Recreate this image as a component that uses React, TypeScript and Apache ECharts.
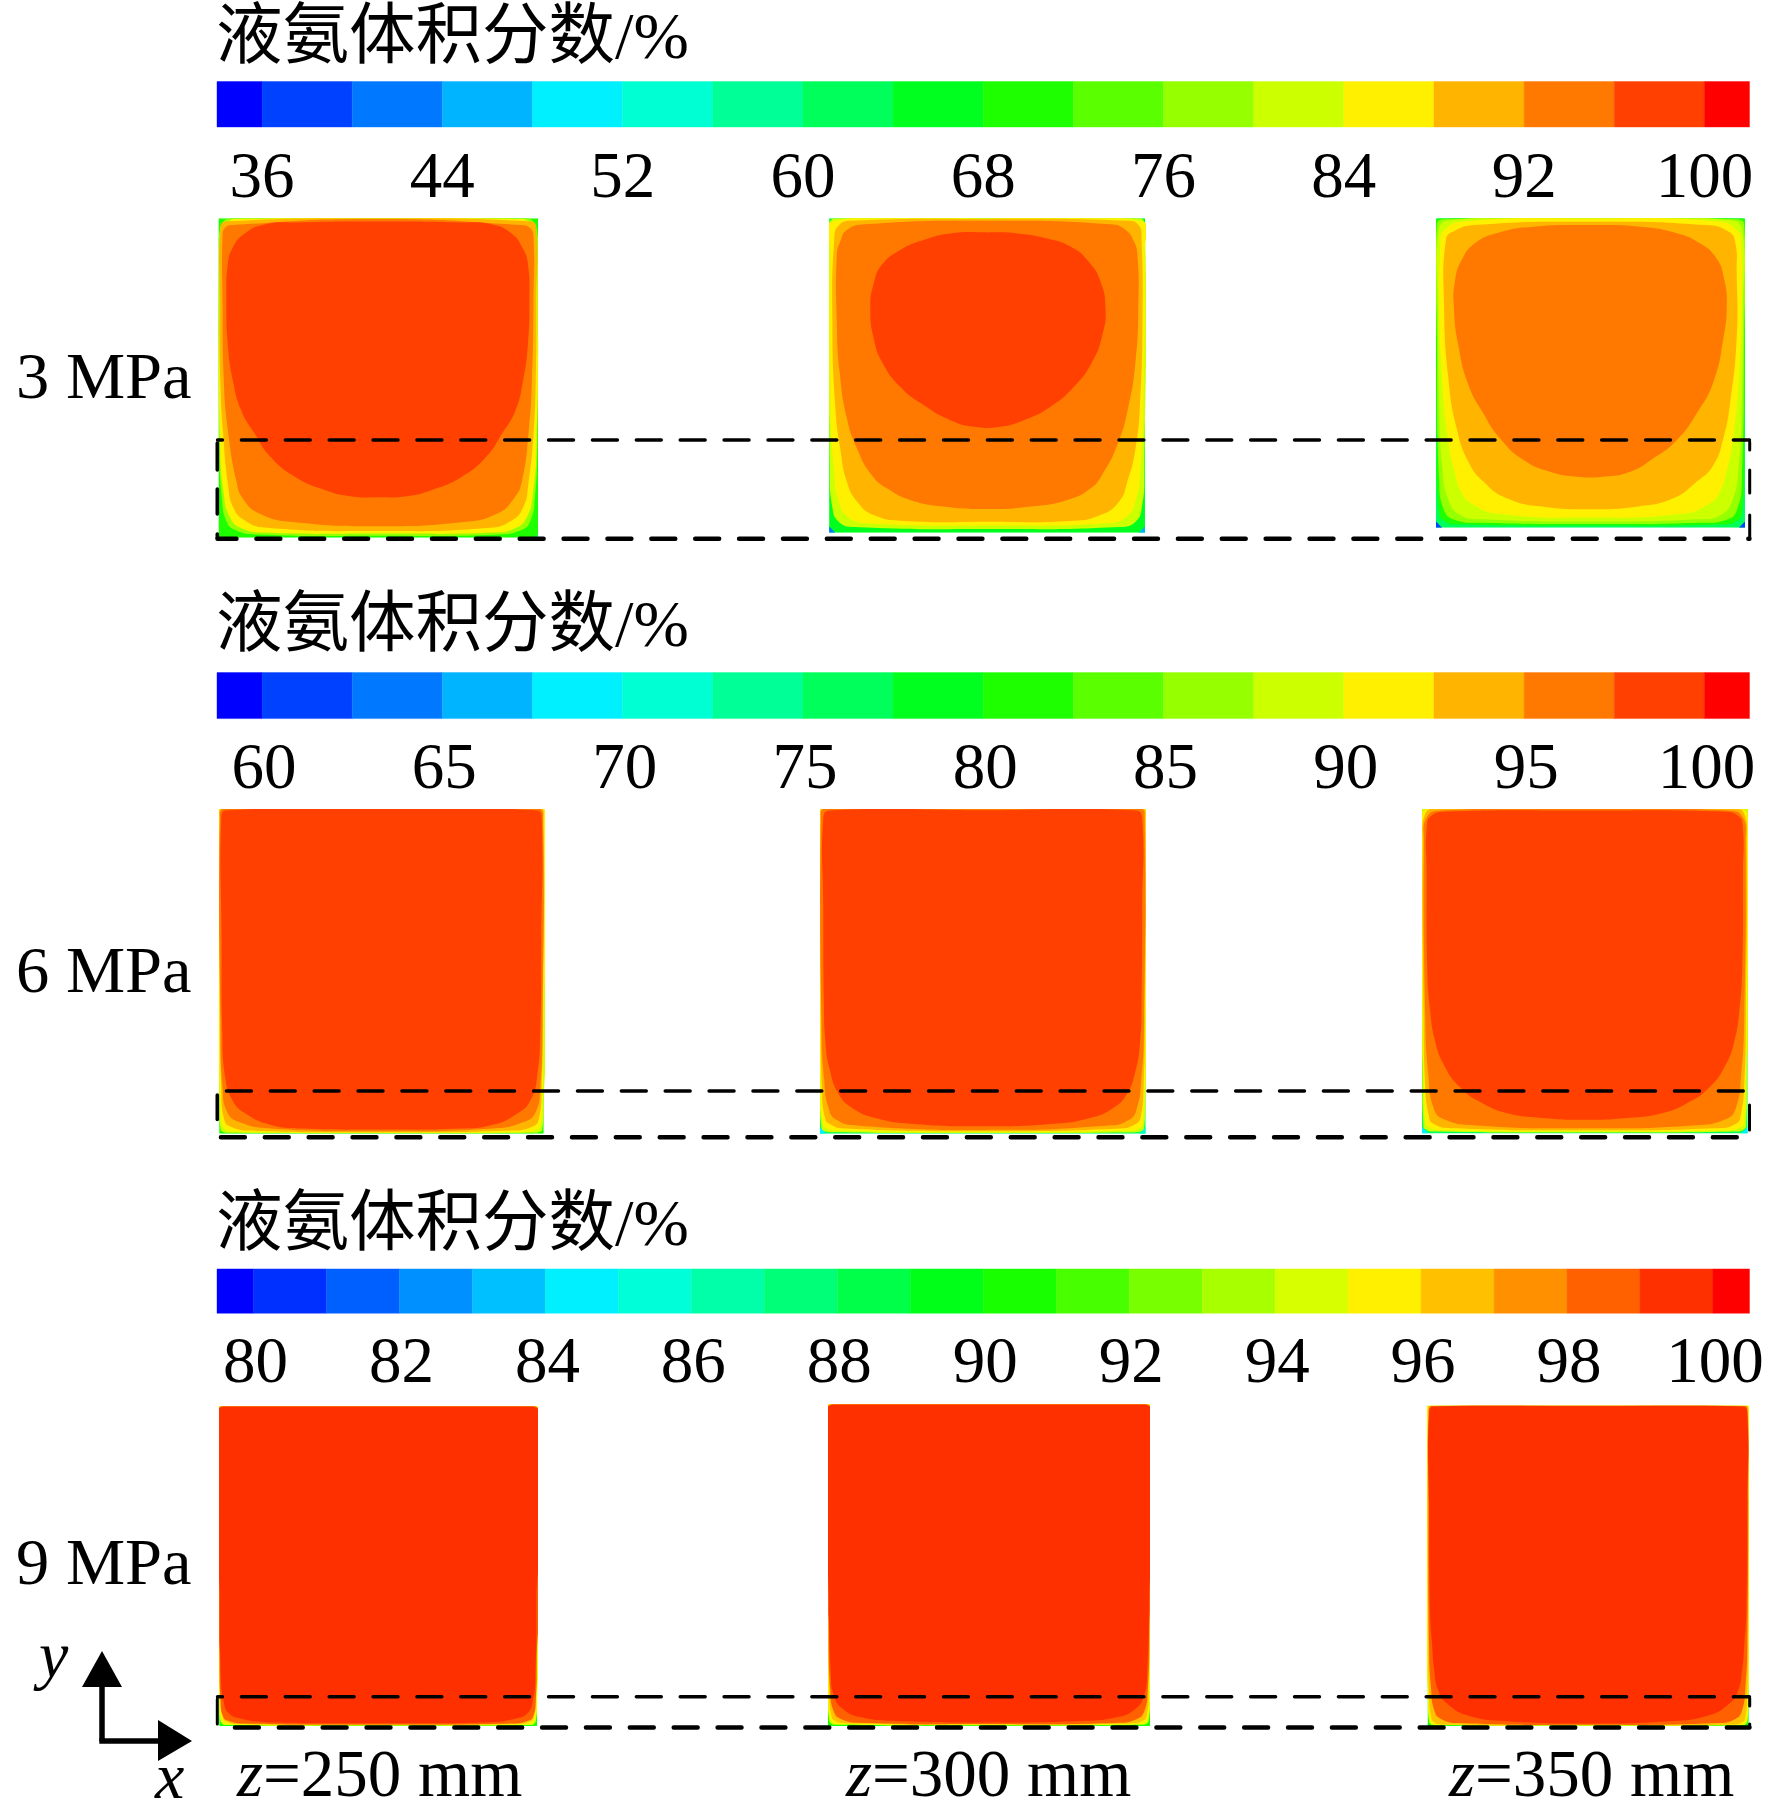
import React, { useEffect, useRef } from "react";
import * as echarts from "echarts";

type Pt = number[];

// ---------- colour-bar data ----------
const titleText = "液氨体积分数/%";
const rowLabels = ["3 MPa", "6 MPa", "9 MPa"];
const positionLabels = ["250", "300", "350"];

const bar1Edges = [34, 36, 40, 44, 48, 52, 56, 60, 64, 68, 72, 76, 80, 84, 88, 92, 96, 100, 102];
const bar1Ticks = [36, 44, 52, 60, 68, 76, 84, 92, 100];
const bar2Edges = [58.75, 60, 62.5, 65, 67.5, 70, 72.5, 75, 77.5, 80, 82.5, 85, 87.5, 90, 92.5, 95, 97.5, 100, 101.25];
const bar2Ticks = [60, 65, 70, 75, 80, 85, 90, 95, 100];
const bar3Edges = [79.5, 80, 81, 82, 83, 84, 85, 86, 87, 88, 89, 90, 91, 92, 93, 94, 95, 96, 97, 98, 99, 100, 100.5];
const bar3Ticks = [80, 82, 84, 86, 88, 90, 92, 94, 96, 98, 100];

const palette18 = ["#0000ff", "#0040ff", "#0078ff", "#00b4ff", "#00f0ff", "#00ffd2", "#00ff96", "#00ff5a", "#00ff1e", "#1eff00", "#5aff00", "#96ff00", "#ccff00", "#fff000", "#ffb400", "#ff7800", "#ff4000", "#ff0000"];
const palette22 = ["#0000ff", "#0030ff", "#0060ff", "#0090ff", "#00c0ff", "#00f0ff", "#00ffd8", "#00ffa8", "#00ff78", "#00ff48", "#00ff18", "#18ff00", "#48ff00", "#78ff00", "#a8ff00", "#d8ff00", "#fff000", "#ffc000", "#ff9000", "#ff6000", "#ff3000", "#ff0000"];

// ---------- contour outlines (x %, y % of each section) ----------
const whole: Pt[] = [[0, 0], [100, 0], [100, 100], [0, 100]];
const cornerBL: Pt[] = [[0, 0], [2, 0], [0, 2]];
const cornerBR: Pt[] = [[100, 0], [98, 0], [100, 2]];

const p11_90: Pt[] = [[50, 100], [4, 100], [1.5, 99], [.3, 96], [0, 90], [.2, 30], [1, 12], [2.5, 5], [5, 2.5], [12, 1], [50, .6], [88, 1], [95, 2.5], [97.5, 5], [99, 12], [99.8, 30], [100, 90], [99.7, 96], [98.5, 99], [96, 100]];
const p11_94: Pt[] = [[50, 100], [6, 99.8], [3, 99], [1, 96], [.2, 74], [.4, 30], [1.7, 13], [3.5, 6.5], [7, 3], [14, 1.6], [50, 1.3], [86, 1.6], [93, 3], [96.5, 6.5], [98.3, 13], [99.6, 30], [99.8, 74], [99, 96], [97, 99], [94, 99.8]];
const p11_98: Pt[] = [[50, 100], [2.4, 99], [.6, 97.4], [.3, 74], [.5, 49], [1.4, 32.6], [2.9, 16.9], [4.5, 9.6], [8.2, 5.4], [15, 3.1], [50, 2.1], [85, 3.1], [91.8, 5.4], [95.4, 9.6], [97, 16.9], [98.6, 32.6], [99.3, 49], [99.5, 74], [99.4, 97.4], [97.6, 99]];
const p11_102: Pt[] = [[50, 99.8], [4.5, 97.9], [1.9, 96.9], [1.2, 94.3], [1.2, 74.4], [1.6, 49.3], [2.9, 33.6], [5.5, 17.9], [7.6, 12.2], [12.9, 7.5], [23.3, 4.9], [50, 3.6], [76.7, 4.9], [87.1, 7.5], [92.4, 12.2], [95, 17.9], [97.1, 33.6], [98.1, 49.3], [98.6, 74.4], [98.6, 94.3], [97.6, 96.9], [94.5, 97.9]];
const p11_core: Pt[] = [[50, 99], [25, 98.7], [14, 98], [7.6, 94.8], [4.5, 91], [2.9, 86], [2.4, 74], [2.9, 60], [4.5, 49], [7, 40], [11, 33], [16.5, 25], [24, 19], [33, 15], [41, 13], [50, 12.7], [59, 13], [67, 15], [76, 19], [83.5, 25], [89, 33], [93, 40], [95.3, 49], [96.8, 60], [97.3, 74], [96.8, 86], [95, 91], [92, 95], [86, 98], [75, 98.7]];

const p12_90: Pt[] = [[50, 100], [2, 100], [0, 97], [.2, 20], [1, 8], [3, 3.5], [8, 1.8], [50, 1.2], [92, 1.8], [97, 3.5], [99, 8], [99.8, 20], [100, 97], [98, 100]];
const p12_94: Pt[] = [[50, 100], [1, 99], [.3, 90], [.4, 40], [1.5, 20], [3, 10], [6, 5], [12, 3], [50, 2.3], [88, 3], [94, 5], [97, 10], [98.5, 20], [99.5, 40], [99.9, 90], [99, 99]];
const p12_98: Pt[] = [[50, 99.8], [6.7, 99.2], [3, 97.7], [1.6, 93.6], [1, 67.1], [1.9, 40.6], [3.5, 26.8], [5.6, 16.2], [8.8, 9.9], [14.1, 5.6], [23.6, 3.7], [50, 3.5], [76.4, 3.7], [85.9, 5.6], [91.8, 9.9], [94.4, 16.2], [97, 26.8], [98.4, 40.6], [99.2, 67.1], [98.9, 93.6], [98.1, 97.7], [94.4, 99.2]];
const p12_102: Pt[] = [[50, 99.2], [11.4, 98.1], [5.6, 96.3], [3.5, 92.6], [2.4, 88.3], [2.4, 67.1], [3.3, 51.2], [5.6, 36.4], [8.8, 26.8], [13.5, 18.3], [18.3, 14.1], [25.7, 10.4], [36.3, 8.3], [50, 7.5], [63.7, 8.3], [75.4, 10.4], [82.8, 14.1], [87, 19.4], [91.2, 27.9], [94.4, 38.5], [97, 54.4], [97.9, 72.4], [97.6, 88.3], [96.5, 92.6], [93.9, 96.3], [89.1, 98.1]];
const p12_core: Pt[] = [[50, 95.5], [38.4, 95.2], [29.9, 93.1], [22.5, 89.9], [16.7, 85.2], [14.1, 79.3], [13, 71.4], [14.1, 61.8], [16.7, 54.4], [22.5, 46.4], [29.9, 40.6], [38.4, 35.8], [45.8, 33.7], [54.2, 33.7], [61.6, 35.8], [70.1, 40.1], [77.5, 46.4], [83.3, 54.4], [86.5, 62.9], [87.5, 71.4], [85.9, 79.9], [82.2, 86.2], [76.4, 91], [69, 93.6], [59.5, 95.2]];

const p13_82: Pt[] = [[50, 100], [1, 100], [0, 99], [.2, 30], [1, 5], [3, 2], [8, 1], [50, .7], [92, 1], [97, 2], [99, 5], [99.8, 30], [100, 99], [99, 100]];
const p13_86: Pt[] = [[50, 100], [3, 99.7], [.3, 98], [.3, 60], [1, 16], [2.5, 6], [6, 2.6], [15, 1.6], [50, 1.2], [85, 1.6], [94, 2.6], [97.5, 6], [99, 16], [99.7, 60], [99.7, 98], [97, 99.7]];
const p13_90: Pt[] = [[50, 100], [4, 99.3], [.7, 95], [.6, 72], [1, 40], [2, 20], [4, 9], [8, 4], [15, 2.7], [50, 2], [85, 2.7], [92, 4], [96, 9], [98, 20], [99, 40], [99.4, 72], [99.3, 95], [96, 99.3]];
const p13_94: Pt[] = [[50, 100], [8, 98.9], [2.5, 96], [1.5, 93], [1, 72], [2, 48], [3.7, 30], [6, 18], [8.5, 11], [12, 7.5], [20, 4.5], [50, 3.3], [80, 4.5], [88, 7.5], [91.5, 11], [94, 18], [96.3, 30], [98, 48], [98.9, 72], [98.7, 93], [97.5, 96], [92, 98.9]];
const p13_98: Pt[] = [[50, 98.9], [12.6, 97.8], [5.6, 95.7], [3.2, 93], [2.6, 72], [4, 48.3], [6.7, 32.1], [10.5, 21.3], [15.3, 14.9], [22.9, 9.5], [34.7, 6.8], [50, 6], [64.9, 6.8], [76.8, 9.5], [84.4, 14.9], [89.8, 20.3], [93, 28.9], [95.1, 39.7], [97.3, 61.2], [97.3, 82.8], [96.8, 92.5], [94.6, 95.7], [87.6, 97.8]];
const p13_core: Pt[] = [[49.8, 97.8], [31.5, 97.3], [19.6, 95.2], [12.6, 91.9], [8.3, 86.5], [6.1, 79.5], [5.8, 70.9], [7.2, 59.1], [10.5, 46.1], [15.3, 37], [20.7, 28.9], [28.3, 21.9], [36.9, 18.1], [45.5, 16.5], [54.2, 16.5], [62.8, 18.1], [70.3, 22.4], [77.9, 28.3], [84.4, 37], [89.8, 47.2], [93, 61.2], [94.1, 72], [93.2, 80.6], [90.8, 87], [85.4, 91.9], [77.9, 95.2], [66, 97.3]];

const p21_90: Pt[] = [[50, .15], [3, .3], [1, .7], [.4, 1.5], [0, 8], [0, 100], [100, 100], [100, 8], [99.6, 1.5], [99, .7], [97, .3]];
const p21_94: Pt[] = [[50, .3], [6, .6], [2, 1.3], [.8, 3], [.3, 10], [0, 40], [0, 100], [100, 100], [100, 40], [99.7, 10], [99.2, 3], [98, 1.3], [94, .6]];
const p21_98: Pt[] = [[50, .5], [10, 1], [3.5, 2.2], [1.5, 4.5], [.6, 14], [.15, 40], [0, 97], [1, 100], [99, 100], [100, 97], [99.85, 40], [99.4, 14], [98.5, 4.5], [96.5, 2.2], [90, 1]];
const p21_102: Pt[] = [[50, .8], [16, 1.6], [6, 3.7], [2.4, 6.8], [1, 14.5], [.4, 31], [.2, 97], [1.5, 100], [98.5, 100], [99.8, 97], [99.6, 31], [99, 14.5], [97.6, 6.8], [94, 3.7], [84, 1.6]];
const p21_core: Pt[] = [[50, 1.3], [26, 1.6], [16, 2.7], [8, 6.3], [4, 10.4], [1.8, 17.5], [.9, 32], [.7, 60], [.6, 97], [2, 99.5], [50, 100], [98, 99.5], [99.4, 97], [99.3, 60], [99, 32], [98, 17.5], [96, 10.4], [92, 6.3], [84, 2.7], [74, 1.6]];

const p22_90: Pt[] = [[50, .25], [3, .5], [1, 1], [.4, 2.2], [0, 10], [0, 100], [100, 100], [100, 10], [99.6, 2.2], [99, 1], [97, .5]];
const p22_94: Pt[] = [[50, .5], [5, 1], [1.8, 1.8], [.8, 3.5], [.2, 12], [0, 35], [0, 100], [100, 100], [100, 35], [99.8, 12], [99.2, 3.5], [98.2, 1.8], [95, 1]];
const p22_98: Pt[] = [[50, .8], [8, 1.6], [3, 3], [1.4, 5.5], [.6, 14], [.2, 35], [0, 97], [1, 100], [99, 100], [100, 97], [99.8, 35], [99.4, 14], [98.6, 5.5], [97, 3], [92, 1.6]];
const p22_102: Pt[] = [[50, 1.2], [12, 2.5], [5, 4.3], [2.5, 8.4], [1.3, 16.6], [.5, 31], [.3, 97], [1.5, 100], [98.5, 100], [99.7, 97], [99.5, 31], [98.7, 16.6], [97.5, 8.4], [95, 4.3], [88, 2.5]];
const p22_core: Pt[] = [[50, 2.3], [28, 3.1], [17.4, 4.8], [10, 7.9], [5.6, 12.5], [3, 19.7], [1.7, 27.8], [1.2, 41], [1, 70], [1, 97], [3, 99.5], [50, 99.6], [97, 99.5], [99, 97], [99, 70], [98.8, 41], [98.3, 27.8], [97, 19.7], [94.4, 12.5], [90, 7.9], [82.6, 4.8], [72, 3.1]];

const p23_90: Pt[] = [[50, .3], [4, .6], [1, 1.3], [.4, 3], [.1, 20], [0, 100], [100, 100], [99.9, 20], [99.6, 3], [99, 1.3], [96, .6]];
const p23_94: Pt[] = [[50, .6], [6, 1], [2, 2], [1, 4], [.5, 15], [.2, 36], [0, 95], [2, 100], [98, 100], [100, 95], [99.8, 36], [99.5, 15], [99, 4], [98, 2], [94, 1]];
const p23_98: Pt[] = [[50, 1], [10, 1.6], [3.5, 3], [2, 6], [1, 15], [.5, 36], [.2, 90], [1, 98.5], [4, 100], [96, 100], [99, 98.5], [99.8, 90], [99.5, 36], [99, 15], [98, 6], [96.5, 3], [90, 1.6]];
const p23_102: Pt[] = [[50, 1.6], [17, 2.5], [6.5, 4.5], [3.5, 8.1], [2, 17.3], [1, 36], [.6, 90], [1.5, 97.5], [6, 99.5], [50, 100], [94, 99.5], [98.5, 97.5], [99.4, 90], [99, 36], [98, 17.3], [96.5, 8.1], [93.5, 4.5], [83, 2.5]];
const p23_core: Pt[] = [[50, 4.2], [37, 4.8], [27, 6.1], [19, 9.1], [11.6, 14.3], [6.6, 21.4], [4, 28.6], [2.5, 37.8], [1.6, 51], [1.4, 80], [1.5, 95], [3, 98], [8, 99.2], [50, 99.5], [92, 99.2], [97, 98], [98.5, 95], [98.6, 80], [98.4, 51], [97.5, 37.8], [96, 28.6], [93.4, 21.4], [88.4, 14.3], [81, 9.1], [73, 6.1], [63, 4.8]];

const p31_95: Pt[] = [[50, .15], [2, .3], [.8, .8], [.3, 2], [0, 6], [0, 100], [100, 100], [100, 6], [99.7, 2], [99.2, .8], [98, .3]];
const p31_96: Pt[] = [[50, .25], [4, .45], [1.5, 1], [.6, 2.5], [.15, 8], [0, 30], [0, 100], [100, 100], [100, 30], [99.85, 8], [99.4, 2.5], [98.5, 1], [96, .45]];
const p31_97: Pt[] = [[50, .35], [6, .6], [2.2, 1.4], [1, 3], [.3, 9], [.1, 30], [.1, 100], [99.9, 100], [99.9, 30], [99.7, 9], [99, 3], [97.8, 1.4], [94, .6]];
const p31_98: Pt[] = [[50, .5], [8, .8], [3, 1.6], [1.2, 3], [.4, 8], [.1, 20], [.1, 99.8], [99.9, 99.8], [99.9, 20], [99.6, 8], [98.8, 3], [97, 1.6], [92, .8]];
const p31_core: Pt[] = [[50, .9], [15, 1.2], [7, 2.3], [3, 4], [1.3, 8], [.5, 16], [.2, 40], [.2, 99.6], [99.8, 99.6], [99.8, 40], [99.5, 16], [98.7, 8], [97, 4], [93, 2.3], [85, 1.2]];

const p32_95: Pt[] = [[50, .2], [2, .4], [.8, .9], [.3, 2.5], [0, 7], [0, 100], [100, 100], [100, 7], [99.7, 2.5], [99.2, .9], [98, .4]];
const p32_96: Pt[] = [[50, .35], [4, .6], [1.5, 1.2], [.6, 3], [.2, 9], [0, 30], [0, 100], [100, 100], [100, 30], [99.8, 9], [99.4, 3], [98.5, 1.2], [96, .6]];
const p32_97: Pt[] = [[50, .45], [6, .8], [2.2, 1.6], [1, 3.5], [.4, 11], [.1, 35], [.1, 100], [99.9, 100], [99.9, 35], [99.6, 11], [99, 3.5], [97.8, 1.6], [94, .8]];
const p32_98: Pt[] = [[50, .6], [10, 1], [4, 2.2], [1.8, 4.5], [.7, 11], [.2, 30], [.1, 99.6], [99.9, 99.6], [99.8, 30], [99.3, 11], [98.2, 4.5], [96, 2.2], [90, 1]];
const p32_core: Pt[] = [[50, 1.1], [20, 1.6], [10, 2.8], [5, 5], [2, 9], [.8, 18], [.3, 40], [.3, 99.5], [99.7, 99.5], [99.7, 40], [99.2, 18], [98, 9], [95, 5], [90, 2.8], [80, 1.6]];

const p33_95: Pt[] = [[50, .1], [2, .25], [.7, .7], [.3, 2], [0, 8], [0, 100], [100, 100], [100, 8], [99.7, 2], [99.3, .7], [98, .25]];
const p33_96: Pt[] = [[50, .2], [3, .4], [1.2, .9], [.6, 2.5], [.2, 9], [0, 25], [0, 100], [100, 100], [100, 25], [99.8, 9], [99.4, 2.5], [98.8, .9], [97, .4]];
const p33_97: Pt[] = [[50, .3], [5, .5], [2, 1.2], [1, 3], [.4, 10], [.1, 25], [.1, 99], [1, 100], [99, 100], [99.9, 99], [99.9, 25], [99.6, 10], [99, 3], [98, 1.2], [95, .5]];
const p33_98: Pt[] = [[50, .4], [10, .9], [4, 2.3], [2, 5], [1, 12], [.4, 25], [.2, 70], [.3, 98], [1.5, 100], [98.5, 100], [99.7, 98], [99.8, 70], [99.6, 25], [99, 12], [98, 5], [96, 2.3], [90, .9]];
const p33_core: Pt[] = [[50, .8], [26, 1.4], [13, 3.1], [6, 7], [3.3, 11], [2, 17.5], [1.3, 26], [.7, 36], [.4, 70], [.4, 97], [1.8, 99.7], [50, 99.9], [98.2, 99.7], [99.6, 97], [99.6, 70], [99.3, 36], [98.7, 26], [98, 17.5], [96.7, 11], [94, 7], [87, 3.1], [74, 1.4]];

// Paint order per section: [band index, outline]
const layers11: [number, Pt[]][] = [[9, whole], [5, [[100, 0], [99, 0], [100, 1]]], [11, p11_90], [13, p11_94], [14, p11_98], [15, p11_102], [16, p11_core]];
const layers12: [number, Pt[]][] = [[8, whole], [2, cornerBL], [3, cornerBR], [12, p12_90], [13, p12_94], [14, p12_98], [15, p12_102], [16, p12_core]];
const layers13: [number, Pt[]][] = [[7, whole], [1, cornerBL], [1, cornerBR], [9, p13_82], [11, p13_86], [12, p13_90], [13, p13_94], [14, p13_98], [15, p13_core]];
const layers21: [number, Pt[]][] = [[9, whole], [12, p21_90], [13, p21_94], [14, p21_98], [15, p21_102], [16, p21_core]];
const layers22: [number, Pt[]][] = [[7, whole], [4, cornerBL], [5, cornerBR], [12, p22_90], [13, p22_94], [14, p22_98], [15, p22_102], [16, p22_core]];
const layers23: [number, Pt[]][] = [[7, whole], [4, cornerBL], [4, cornerBR], [12, p23_90], [13, p23_94], [14, p23_98], [15, p23_102], [16, p23_core]];
const layers31: [number, Pt[]][] = [[11, whole], [15, p31_95], [16, p31_96], [17, p31_97], [19, p31_98], [20, p31_core]];
const layers32: [number, Pt[]][] = [[11, whole], [15, p32_95], [16, p32_96], [17, p32_97], [19, p32_98], [20, p32_core]];
const layers33: [number, Pt[]][] = [[10, whole], [15, p33_95], [16, p33_96], [17, p33_97], [19, p33_98], [20, p33_core]];

// ---------- layout (pixels) ----------
const serif = '"Liberation Serif", "Noto Sans CJK SC", serif';
const barBoxes = [
  { top: 81.5, height: 45.5, edges: bar1Edges, ticks: bar1Ticks, palette: palette18, margin: 15, pad: 0 },
  { top: 672.6, height: 46, edges: bar2Edges, ticks: bar2Ticks, palette: palette18, margin: 15, pad: 4 },
  { top: 1268.9, height: 44.4, edges: bar3Edges, ticks: bar3Ticks, palette: palette22, margin: 14, pad: 4 },
];
const panels = [
  { l: 218.7, t: 218.3, r: 538, b: 537.7, layers: layers11, palette: palette18 },
  { l: 829.2, t: 218.3, r: 1145, b: 532.7, layers: layers12, palette: palette18 },
  { l: 1436, t: 218.3, r: 1745, b: 527.7, layers: layers13, palette: palette18 },
  { l: 219.3, t: 808.9, r: 543.6, b: 1133.8, layers: layers21, palette: palette18 },
  { l: 820, t: 808.9, r: 1145.5, b: 1133.8, layers: layers22, palette: palette18 },
  { l: 1422, t: 808.9, r: 1747.5, b: 1133.5, layers: layers23, palette: palette18 },
  { l: 219.3, t: 1406.6, r: 537, b: 1726, layers: layers31, palette: palette22 },
  { l: 828, t: 1404.6, r: 1150, b: 1726, layers: layers32, palette: palette22 },
  { l: 1427.8, t: 1405.8, r: 1748.6, b: 1726, layers: layers33, palette: palette22 },
];

function buildOption() {
  const grid: any[] = [];
  const xAxis: any[] = [];
  const yAxis: any[] = [];
  const series: any[] = [];

  barBoxes.forEach((b, i) => {
    grid.push({ left: 217, width: 1532.5, top: b.top, height: b.height, show: false });
    xAxis.push({
      type: "value",
      gridIndex: i,
      min: b.edges[0],
      max: b.edges[b.edges.length - 1],
      axisLine: { show: false },
      axisTick: { show: false },
      splitLine: { show: false },
      axisLabel: { show: true, customValues: b.ticks, margin: b.margin, fontSize: 65, fontFamily: serif, color: "#000", hideOverlap: false, padding: [0, 0, 0, b.pad] },
    });
    yAxis.push({ type: "value", gridIndex: i, min: 0, max: 1, show: false });
    series.push({
      type: "custom",
      xAxisIndex: i,
      yAxisIndex: i,
      silent: true,
      data: b.edges.slice(0, -1).map((lo, k) => [lo, b.edges[k + 1], k]),
      renderItem: (_p: any, api: any) => {
        const a = api.coord([api.value(0), 1]);
        const c = api.coord([api.value(1), 0]);
        const col = b.palette[api.value(2)];
        return { type: "rect", shape: { x: a[0], y: a[1], width: c[0] - a[0], height: c[1] - a[1] }, style: { fill: col, stroke: col, lineWidth: 0.4 } };
      },
    });
  });

  panels.forEach((p, n) => {
    const i = n + barBoxes.length;
    grid.push({ left: p.l, top: p.t, width: p.r - p.l, height: p.b - p.t, show: false });
    xAxis.push({ type: "value", gridIndex: i, min: 0, max: 100, show: false });
    yAxis.push({ type: "value", gridIndex: i, min: 0, max: 100, show: false });
    series.push({
      type: "custom",
      xAxisIndex: i,
      yAxisIndex: i,
      silent: true,
      clip: true,
      data: p.layers.map((_l, k) => [k]),
      renderItem: (params: any, api: any) => {
        const [band, pts] = p.layers[params.dataIndex];
        const col = p.palette[band];
        return {
          type: "polygon",
          shape: { points: pts.map((q) => api.coord(q)), smooth: pts.length > 4 ? 0.5 : 0 },
          style: { fill: col },
        };
      },
    });
  });

  const dashInk = 28.4;
  const period = 43.88;
  const hDash = (x1: number, x2: number, y: number, lw: number, inkStart: number) => {
    const dash = dashInk - lw;
    const ps = inkStart + lw / 2;
    const off = ((x1 - ps) % period + period) % period;
    return {
      type: "line", z: 100, silent: true,
      shape: { x1, y1: y, x2, y2: y },
      style: { stroke: "#000", lineWidth: lw, lineCap: "round", lineDash: [dash, period - dash], lineDashOffset: off },
    };
  };
  const vDash = (x: number, y1: number, y2: number, lw: number) => ({
    type: "line", z: 100, silent: true,
    shape: { x1: x, y1, x2: x, y2 },
    style: { stroke: "#000", lineWidth: lw, lineCap: "round" },
  });

  const txt = (text: string, x: number, y: number, size: number, extra: any = {}) => ({
    type: "text", z: 100, silent: true, x, y,
    style: { text, fontSize: size, fontFamily: serif, fill: "#000", align: "left", verticalAlign: "middle", ...extra },
  });
  const posLabel = (v: string, x: number) => ({
    type: "text", z: 100, silent: true, x, y: 1773,
    style: {
      text: `{i|z}{r|=${v} mm}`,
      fill: "#000",
      align: "left",
      verticalAlign: "middle",
      rich: {
        i: { fontSize: 67, fontFamily: serif, fontStyle: "italic", fill: "#000" },
        r: { fontSize: 67, fontFamily: serif, fill: "#000" },
      },
    },
  });

  const graphic: any[] = [
    txt(titleText, 216, 35, 66.5),
    txt(titleText, 216, 623, 66.5),
    txt(titleText, 216, 1222, 66.5),
    txt(rowLabels[0], 16, 375, 66.5),
    txt(rowLabels[1], 16, 969, 66.5),
    txt(rowLabels[2], 16, 1561, 66.5),
    posLabel(positionLabels[0], 237),
    posLabel(positionLabels[1], 846),
    posLabel(positionLabels[2], 1449),
    txt("y", 39, 1654, 66, { fontStyle: "italic" }),
    txt("x", 155, 1775, 66, { fontStyle: "italic" }),
    { type: "line", z: 100, silent: true, shape: { x1: 102, y1: 1741, x2: 102, y2: 1680 }, style: { stroke: "#000", lineWidth: 5.5 } },
    { type: "line", z: 100, silent: true, shape: { x1: 99.3, y1: 1741, x2: 165, y2: 1741 }, style: { stroke: "#000", lineWidth: 5.5 } },
    { type: "polygon", z: 100, silent: true, shape: { points: [[102, 1651], [122, 1687], [82, 1687]] }, style: { fill: "#000" } },
    { type: "polygon", z: 100, silent: true, shape: { points: [[192, 1741], [158, 1720], [158, 1761]] }, style: { fill: "#000" } },

    hDash(217.5, 1749.5, 440, 3.4, 239.3),
    hDash(217.5, 1749.5, 538.8, 4.4, 210.5),
    vDash(217.3, 443, 470, 3.6), vDash(217.3, 489, 514, 3.6), vDash(217.3, 534, 538, 3.6),
    vDash(1749.7, 442, 450, 3), vDash(1749.7, 470, 493, 3), vDash(1749.7, 515, 538, 3),

    hDash(224.5, 1747, 1091, 3.4, 224.3),
    hDash(219, 1742, 1137.2, 4.4, 218.3),
    vDash(217.3, 1095, 1119.5, 3.6),
    vDash(1749.5, 1105, 1130, 3),

    hDash(217.5, 1749.5, 1696.7, 3.4, 239.7),
    hDash(233, 1749.5, 1727.5, 4.4, 233),
    vDash(217.3, 1699, 1724, 3),
    vDash(1749.7, 1698, 1706, 3),
    vDash(1749.7, 1724, 1727, 3),
  ];

  return { animation: false, backgroundColor: "#fff", grid, xAxis, yAxis, series, graphic };
}

export default function App() {
  const ref = useRef<HTMLDivElement>(null);
  useEffect(() => {
    document.body.style.margin = "0";
    const chart = echarts.init(ref.current!, undefined, { renderer: "svg" });
    chart.setOption(buildOption() as any);
    return () => chart.dispose();
  }, []);
  return <div ref={ref} style={{ position: "absolute", left: 0, top: 0, width: 1772, height: 1817, overflow: "hidden" }} />;
}
